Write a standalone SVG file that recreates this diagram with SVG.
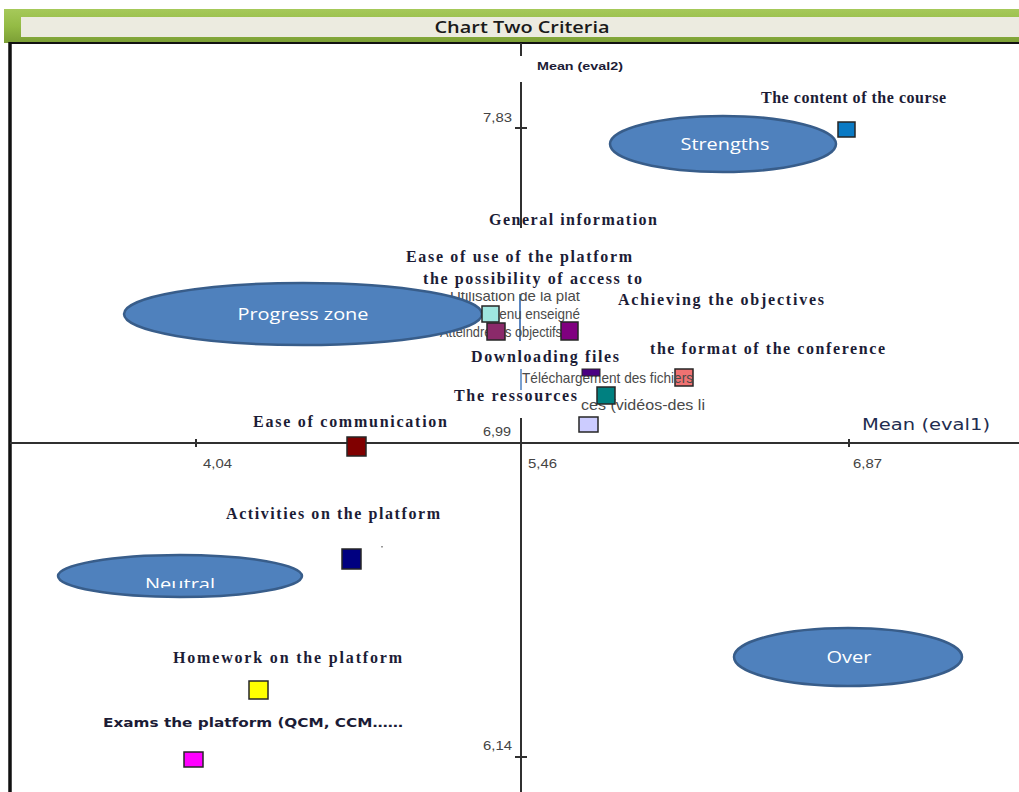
<svg xmlns="http://www.w3.org/2000/svg" width="1019" height="792" viewBox="0 0 1019 792">
<defs>
<linearGradient id="green" x1="0" y1="0" x2="0" y2="1">
<stop offset="0" stop-color="#a6c95a"/>
<stop offset="0.5" stop-color="#94bb45"/>
<stop offset="1" stop-color="#7b9e35"/>
</linearGradient>
<clipPath id="clipNeutral"><rect x="0" y="560" width="400" height="28"/></clipPath>
<clipPath id="clipUtil"><rect x="400" y="292" width="250" height="20"/></clipPath>
<style>
.lbl{font-family:"Liberation Serif","Times New Roman",serif;font-weight:bold;font-size:16px;fill:#1c1c36;}
.num{font-family:"Liberation Sans",Arial,sans-serif;font-size:13px;fill:#444;}
.fr{font-family:"Liberation Sans",Arial,sans-serif;font-size:15px;fill:#4a4a4a;}
.zone{fill:#4f81bd;stroke:#385d8a;stroke-width:2.5;}
.ztxt{font-family:"Open Sans","Liberation Sans",sans-serif;font-size:16px;fill:#ffffff;text-anchor:middle;}
.pt{stroke:#262626;stroke-width:1.5;}
.ax{stroke:#303030;stroke-width:2;fill:none;}
</style>
</defs>
<rect width="1019" height="792" fill="#ffffff"/>
<!-- header -->
<rect x="4" y="9" width="1015" height="34" fill="url(#green)"/>
<rect x="21" y="17" width="998" height="20" fill="#ecebe0"/>
<text x="522" y="33" text-anchor="middle" font-family="'Open Sans','Liberation Sans',sans-serif" font-size="16" font-weight="600" fill="#1a1a1a" textLength="175" lengthAdjust="spacingAndGlyphs">Chart Two Criteria</text>
<!-- frame -->
<line x1="10" y1="43" x2="1019" y2="43" stroke="#111" stroke-width="2"/>
<line x1="10" y1="42" x2="10" y2="792" stroke="#111" stroke-width="3.5"/>
<g id="connectors">
<line class="ax" x1="10" y1="443" x2="1019" y2="443"/>
<line class="ax" x1="521" y1="43" x2="521" y2="56"/>
<line class="ax" x1="521" y1="82" x2="521" y2="228"/>
<line class="ax" x1="521" y1="418" x2="521" y2="792"/>
<line x1="520" y1="294" x2="520" y2="341" stroke="#5b86c0" stroke-width="2"/>
<line x1="521" y1="369" x2="521" y2="390" stroke="#7aa0d0" stroke-width="2"/>
<line class="ax" x1="515" y1="128" x2="527" y2="128"/>
<line class="ax" x1="515" y1="757" x2="527" y2="757"/>
<line class="ax" x1="196" y1="439" x2="196" y2="447"/>
<line class="ax" x1="849" y1="439" x2="849" y2="447"/>
</g>
<g id="axis-labels">
<text class="num" x="483" y="122" textLength="29" lengthAdjust="spacingAndGlyphs">7,83</text>
<text class="num" x="483" y="436" textLength="28" lengthAdjust="spacingAndGlyphs">6,99</text>
<text class="num" x="483" y="750" textLength="29" lengthAdjust="spacingAndGlyphs">6,14</text>
<text class="num" x="203" y="468" textLength="29" lengthAdjust="spacingAndGlyphs">4,04</text>
<text class="num" x="528" y="468" textLength="29" lengthAdjust="spacingAndGlyphs">5,46</text>
<text class="num" x="853" y="468" textLength="29" lengthAdjust="spacingAndGlyphs">6,87</text>
<text x="537" y="70" font-family="'Liberation Sans',Arial,sans-serif" font-weight="bold" font-size="11" fill="#1c1c36" textLength="86" lengthAdjust="spacingAndGlyphs">Mean (eval2)</text>
<text x="862" y="430" font-family="'DejaVu Sans',Verdana,sans-serif" font-size="16" fill="#1f2d50" textLength="128" lengthAdjust="spacingAndGlyphs">Mean (eval1)</text>
</g>
<g id="conference"><rect class="pt" x="675" y="369" width="18" height="17" fill="#f07272"/><text class="lbl" x="650" y="354" textLength="235" lengthAdjust="spacing">the format of the conference</text></g>
<!-- faint french labels -->
<g id="french-labels">
<text class="fr" x="450" y="301" textLength="130" lengthAdjust="spacingAndGlyphs" clip-path="url(#clipUtil)">Utilisation de la plat</text>
<text class="fr" x="455" y="319" textLength="125" lengthAdjust="spacingAndGlyphs">Le contenu enseigné</text>
<text class="fr" x="440" y="337" textLength="122" lengthAdjust="spacingAndGlyphs">Atteindre les objectifs</text>
<text class="fr" x="522" y="383" textLength="171" lengthAdjust="spacingAndGlyphs">Téléchargement des fichiers</text>
<text class="fr" x="581" y="410" textLength="124" lengthAdjust="spacingAndGlyphs">ces (vidéos-des li</text>
</g>
<!-- zones -->
<g id="zone-strengths"><ellipse class="zone" cx="723" cy="144" rx="113" ry="28"/><text class="ztxt" x="725" y="150" textLength="89" lengthAdjust="spacingAndGlyphs">Strengths</text></g>
<g id="zone-progress"><ellipse class="zone" cx="303" cy="314" rx="179" ry="31"/><text class="ztxt" x="303" y="320" textLength="131" lengthAdjust="spacingAndGlyphs">Progress zone</text></g>
<g id="zone-neutral"><ellipse class="zone" cx="180" cy="576" rx="122" ry="21"/><text class="ztxt" x="180" y="590" textLength="70" lengthAdjust="spacingAndGlyphs" clip-path="url(#clipNeutral)">Neutral</text></g>
<g id="zone-over"><ellipse class="zone" cx="848" cy="657" rx="114" ry="29"/><text class="ztxt" x="849" y="663" textLength="45" lengthAdjust="spacingAndGlyphs">Over</text></g>
<!-- points -->
<g id="content-course"><rect class="pt" x="838" y="122" width="17" height="15" fill="#0a7ac4"/><text class="lbl" x="761" y="103" font-size="13" textLength="185" lengthAdjust="spacing">The content of the course</text></g>
<g id="general-info"><text class="lbl" x="489" y="225" textLength="168" lengthAdjust="spacing">General information</text></g>
<g id="ease-use"><rect class="pt" x="482" y="306" width="17" height="16" fill="#9fe6df"/><text class="lbl" x="406" y="262" textLength="226" lengthAdjust="spacing">Ease of use of the platform</text></g>
<g id="access"><rect class="pt" x="487" y="323" width="18" height="17" fill="#8b2a6a"/><text class="lbl" x="423" y="284" textLength="219" lengthAdjust="spacing">the possibility of access to</text></g>
<g id="objectives"><rect class="pt" x="561" y="322" width="17" height="18" fill="#800080"/><text class="lbl" x="618" y="305" textLength="206" lengthAdjust="spacing">Achieving the objectives</text></g>
<g id="downloading"><rect x="582" y="369" width="18" height="7" fill="#4b0082" stroke="#262626" stroke-width="1"/><text class="lbl" x="471" y="362" textLength="148" lengthAdjust="spacing">Downloading files</text></g>
<g id="ressources"><rect class="pt" x="597" y="387" width="18" height="17" fill="#008080"/><rect class="pt" x="579" y="417" width="19" height="15" fill="#ccccff"/><text class="lbl" x="454" y="401" textLength="123" lengthAdjust="spacing">The ressources</text></g>
<g id="communication"><rect class="pt" x="347" y="437" width="19" height="19" fill="#800000"/><text class="lbl" x="253" y="427" textLength="194" lengthAdjust="spacing">Ease of communication</text></g>
<g id="activities"><rect class="pt" x="342" y="549" width="19" height="20" fill="#000080"/><rect x="381" y="546" width="2" height="1.5" fill="#999"/><text class="lbl" x="226" y="519" textLength="214" lengthAdjust="spacing">Activities on the platform</text></g>
<g id="homework"><rect class="pt" x="249" y="681" width="19" height="18" fill="#ffff00"/><text class="lbl" x="173" y="663" textLength="229" lengthAdjust="spacing">Homework on the platform</text></g>
<g id="exams"><rect class="pt" x="184" y="752" width="19" height="15" fill="#ff00ff"/><text x="103" y="727" font-family="'DejaVu Sans',Verdana,sans-serif" font-weight="bold" font-size="12.5" fill="#1c1c36" textLength="300" lengthAdjust="spacingAndGlyphs">Exams  the platform (QCM, CCM……</text></g>
</svg>
